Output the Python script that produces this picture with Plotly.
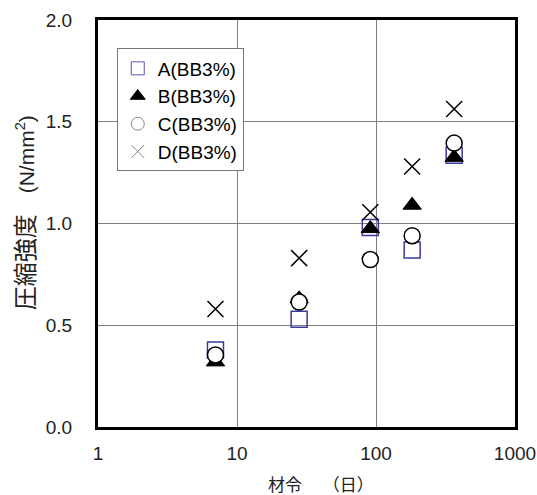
import plotly.graph_objects as go

days = [7, 28, 91, 182, 365]
a_vals = [0.378, 0.53, 0.98, 0.87, 1.335]
b_vals = [0.32, 0.63, 0.975, 1.09, 1.325]
c_vals = [0.354, 0.614, 0.823, 0.94, 1.395]
d_vals = [0.58, 0.83, 1.055, 1.28, 1.563]
names = ["A(BB3%)", "B(BB3%)", "C(BB3%)", "D(BB3%)"]
x_ticks = [1, 10, 100, 1000]
y_ticks = [0.0, 0.5, 1.0, 1.5, 2.0]

FONT = "Liberation Sans, Arial, sans-serif"
CJK = "Liberation Sans, Noto Sans CJK JP, sans-serif"

styles = [
    dict(symbol="square-open", color="#3a3aa0", line=dict(color="#3a3aa0", width=1.5)),
    dict(symbol="triangle-up", color="black", line=dict(color="black", width=1)),
    dict(symbol="circle", color="white", line=dict(color="black", width=1.5)),
    dict(symbol="x-thin-open", color="black", line=dict(color="black", width=1.5)),
]
legend_styles = [
    dict(symbol="square-open", color="#5555bb", size=13, line=dict(color="#5555bb", width=1)),
    dict(symbol="triangle-up", color="black", size=13, line=dict(color="black", width=1)),
    dict(symbol="circle-open", color="#888888", size=13, line=dict(color="#888888", width=1)),
    dict(symbol="x-thin-open", color="#888888", size=13, line=dict(color="#888888", width=1)),
]

fig = go.Figure()
for vals, st in zip([a_vals, b_vals, c_vals, d_vals], styles):
    fig.add_trace(go.Scatter(x=days, y=vals, mode="markers", showlegend=False,
                             marker=dict(size=16, **st)))
for nm, st in zip(names, legend_styles):
    fig.add_trace(go.Scatter(x=[None], y=[None], mode="markers", name=nm,
                             marker=st))

fig.update_layout(
    width=537, height=495,
    margin=dict(l=98, r=22, t=20, b=68),
    paper_bgcolor="white", plot_bgcolor="white",
    font=dict(family=FONT, size=19, color="#222222"),
    legend=dict(x=0.045, y=0.93, xanchor="left", yanchor="top",
                bgcolor="white", bordercolor="#777777", borderwidth=1,
                font=dict(size=19, color="black"), itemwidth=30, tracegroupgap=0),
    annotations=[
        dict(text="<span style='font-size:24px'>圧縮強度</span>　(N/mm<sup>2</sup>)",
             textangle=-90, xref="paper", yref="paper",
             x=-0.175, y=0.525, xanchor="center", yanchor="middle", showarrow=False,
             font=dict(family=CJK, size=21, color="#222222")),
        dict(text="材令　 （日）", xref="paper", yref="paper",
             x=0.535, y=-0.1376, xanchor="center", yanchor="middle", showarrow=False,
             font=dict(family="Noto Sans CJK JP, sans-serif", size=17, color="#222222")),
    ],
)
fig.update_xaxes(type="log", range=[0, 3], tickvals=x_ticks, ticktext=[str(v) for v in x_ticks],
                 showgrid=True, gridcolor="#808080", gridwidth=1, automargin=False,
                 showline=True, linecolor="black", linewidth=3, mirror=True,
                 ticks="", ticklabelstandoff=7, zeroline=False)
fig.update_yaxes(range=[0, 2], tickvals=y_ticks, ticktext=[f"{v:.1f}" for v in y_ticks],
                 showgrid=True, gridcolor="#808080", gridwidth=1, automargin=False,
                 showline=True, linecolor="black", linewidth=3, mirror=True,
                 ticks="", ticklabelstandoff=19, zeroline=False)

fig.write_html("out.html")
